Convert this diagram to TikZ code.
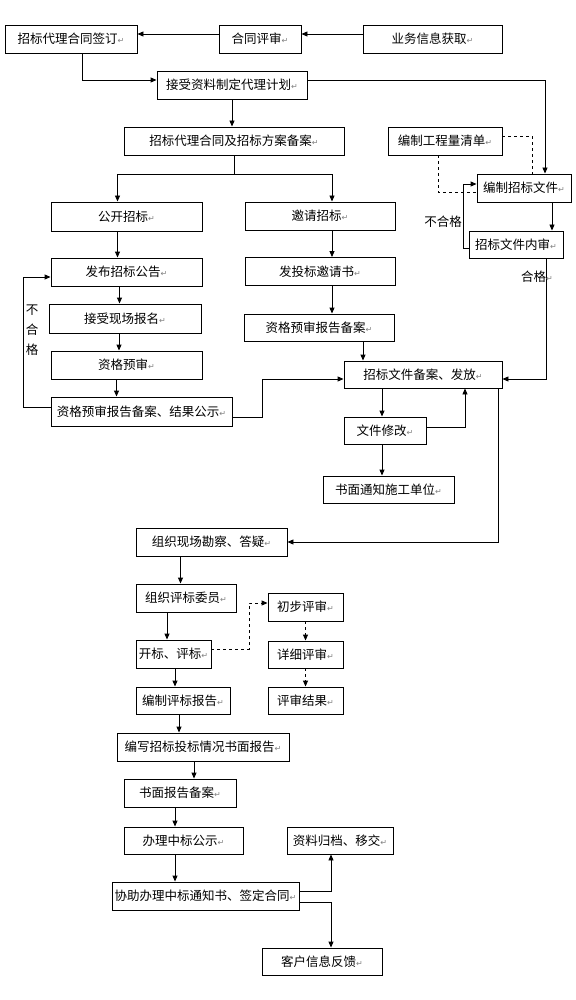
\documentclass[tikz,border=0pt]{standalone}
\usepackage{fontspec}
\setmainfont{Noto Sans CJK SC}
\newfontfamily\symfont{DejaVu Sans}
\usetikzlibrary{arrows.meta}
\newcommand\retmark{{\symfont\color{gray}\fontsize{8}{8}\selectfont ↵}}

\begin{document}
\begin{tikzpicture}[x=1pt, y=-1pt, >={Triangle[length=6pt,width=5pt]}, line width=0.9pt, font=\fontsize{12.5}{14}\selectfont, box/.style={draw, inner sep=0pt}]
  \useasboundingbox (0,0) rectangle (575,1000);
  \foreach \n/\x/\y/\w/\h/\t in {sign/71/39/132/28/招标代理合同签订, review/260/39/82/28/合同评审, info/432.5/39/139/28/业务信息获取, plan/232/85/150/28/接受资料制定代理计划, filing/234/141/220/28/招标代理合同及招标方案备案, bill/445/141/114/28/编制工程量清单, docs/524/188/94/28/编制招标文件, check/516/244.5/94/27/招标文件内审, open/126.5/216.5/151/29/公开招标, invite/320/216/150/28/邀请招标, notice/126.5/272/151/28/发布招标公告, letter/320/271.5/150/28/发投标邀请书, enrol/125/318.5/152/29/接受现场报名, preqrep/319/327.5/150/27/资格预审报告备案, preq/126.5/365/151/28/资格预审, publicity/141.5/411.5/181/29/资格预审报告备案、结果公示, issue/423/374.5/158/27/招标文件备案、发放, revise/385/430.5/82/27/文件修改, inform/388.5/489.5/131/27/书面通知施工单位, survey/211.5/542/151/28/组织现场勘察、答疑, panel/186/598/100/28/组织评标委员, first/305.5/607/75/28/初步评审, evaluate/173.5/654/75/28/开标、评标, detail/305.5/654.5/75/27/详细评审, report/183/700.5/94/27/编制评标报告, result/305.5/700.5/75/27/评审结果, written/203/747/172/28/编写招标投标情况书面报告, writtenfile/180/793/112/28/书面报告备案, award/183.5/840.5/119/27/办理中标公示, archive/340/840.5/106/27/资料归档、移交, contract/205.5/896/187/28/协助办理中标通知书、签定合同, feedback/322/961.5/120/27/客户信息反馈}
    \node[box, minimum width=\w pt, minimum height=\h pt] (\n) at (\x,\y) {\t\retmark};
  \foreach \a/\b/\s in {open/notice/-9, notice/enrol/-7, enrol/preq/-6, preq/publicity/-10, invite/letter/12, letter/preqrep/12, preqrep/issue/44, docs/check/28, issue/revise/-41, revise/inform/-3, survey/panel/-31, panel/evaluate/-19, evaluate/report/1.5, report/written/-4, written/writtenfile/-9, writtenfile/award/-5, award/contract/-8.5, plan/filing/0}
    \draw[->] ([xshift=\s pt]\a.south) -- ([xshift=\s pt]\a.south |- \b.north);
  \draw[->] ([yshift=5pt]info.west) -- ([yshift=5pt]review.east);
  \draw[->] ([yshift=5pt]review.west) -- ([yshift=5pt]sign.east);
  \draw[->] ([xshift=11pt]sign.south) |- ([yshift=5pt]plan.west);
  \draw[->] ([yshift=5pt]plan.east) -| ([xshift=21pt]docs.north);
  \draw[->] (filing.south) -- ++(0,19) coordinate (fork) -| ([xshift=-9pt]open.north);
  \draw[->] (fork) -| ([xshift=12pt]invite.north);
  \draw[->] ([yshift=4.5pt]publicity.west) -- ++(-27,0) |- ([yshift=-5pt]notice.west);
  \node[align=center, font=\fontsize{12.5}{20}\selectfont] (fail1) at (32,330) {不\\合\\格};
  \draw[->] ([yshift=-5.5pt]publicity.east) -- ++(30,0) |- ([yshift=-4.5pt]issue.west);
  \draw[dashed] ([yshift=5pt]bill.east) -| ([xshift=8pt]docs.north);
  \draw[dashed] ([xshift=-7pt]bill.south) |- ([yshift=-4pt]docs.west);
  \draw[->] ([yshift=-3.5pt]check.west) -- ++(-5,0) |- ([yshift=4pt]docs.west);
  \node (fail2) at (443,222) {不合格};
  \draw[->] ([xshift=30pt]check.south) |- ([yshift=-4.5pt]issue.east);
  \node (pass) at (537,277) {合格\retmark};
  \draw[->] ([yshift=3.5pt]revise.east) -| ([xshift=42pt]issue.south);
  \draw[->] ([xshift=75pt]issue.south) |- (survey.east);
  \draw[->, dashed] ([yshift=5pt]evaluate.east) -- ++(38,0) |- ([yshift=4pt]first.west);
  \draw[->, dashed] (first.south) -- (detail.north);
  \draw[->, dashed] (detail.south) -- (result.north);
  \draw[->] ([yshift=5pt]contract.east) -| ([xshift=-9pt]archive.south);
  \draw[->] ([yshift=-6pt]contract.east) -| ([xshift=9pt]feedback.north);
\end{tikzpicture}
\end{document}
